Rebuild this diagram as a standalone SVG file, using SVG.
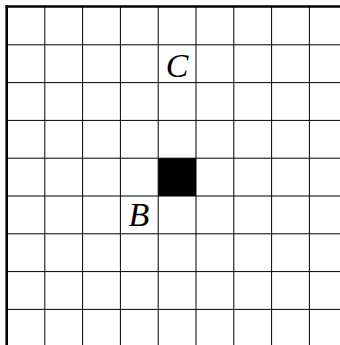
<svg xmlns="http://www.w3.org/2000/svg" width="340" height="345" viewBox="0 0 340 345">
<style>
.g line{stroke:#000;stroke-width:1}
.b line{stroke:#000;stroke-width:2.6}
.lbl{font-family:"Liberation Serif",serif;font-style:italic;font-size:34px;fill:#000;text-anchor:middle}
</style>
<rect width="340" height="345" fill="#fff"/>
<g id="grid" class="g">
<line x1="44.8" y1="7" x2="44.8" y2="345"/>
<line x1="82.6" y1="7" x2="82.6" y2="345"/>
<line x1="120.4" y1="7" x2="120.4" y2="345"/>
<line x1="158.2" y1="7" x2="158.2" y2="345"/>
<line x1="196" y1="7" x2="196" y2="345"/>
<line x1="233.8" y1="7" x2="233.8" y2="345"/>
<line x1="271.6" y1="7" x2="271.6" y2="345"/>
<line x1="309.4" y1="7" x2="309.4" y2="345"/>
<line x1="7" y1="44.8" x2="340" y2="44.8"/>
<line x1="7" y1="82.6" x2="340" y2="82.6"/>
<line x1="7" y1="120.4" x2="340" y2="120.4"/>
<line x1="7" y1="158.2" x2="340" y2="158.2"/>
<line x1="7" y1="196" x2="340" y2="196"/>
<line x1="7" y1="233.8" x2="340" y2="233.8"/>
<line x1="7" y1="271.6" x2="340" y2="271.6"/>
<line x1="7" y1="309.4" x2="340" y2="309.4"/>
</g>
<g id="border" class="b">
<line x1="6.7" y1="5.4" x2="6.7" y2="345"/>
<line x1="5.4" y1="6.5" x2="340" y2="6.5"/>
</g>
<rect id="cell" x="158.2" y="158.2" width="37.8" height="37.8" fill="#000"/>
<g id="C"><text class="lbl" x="177" y="76.5">C</text></g>
<g id="B"><text class="lbl" x="139" y="225.5">B</text></g>
</svg>
